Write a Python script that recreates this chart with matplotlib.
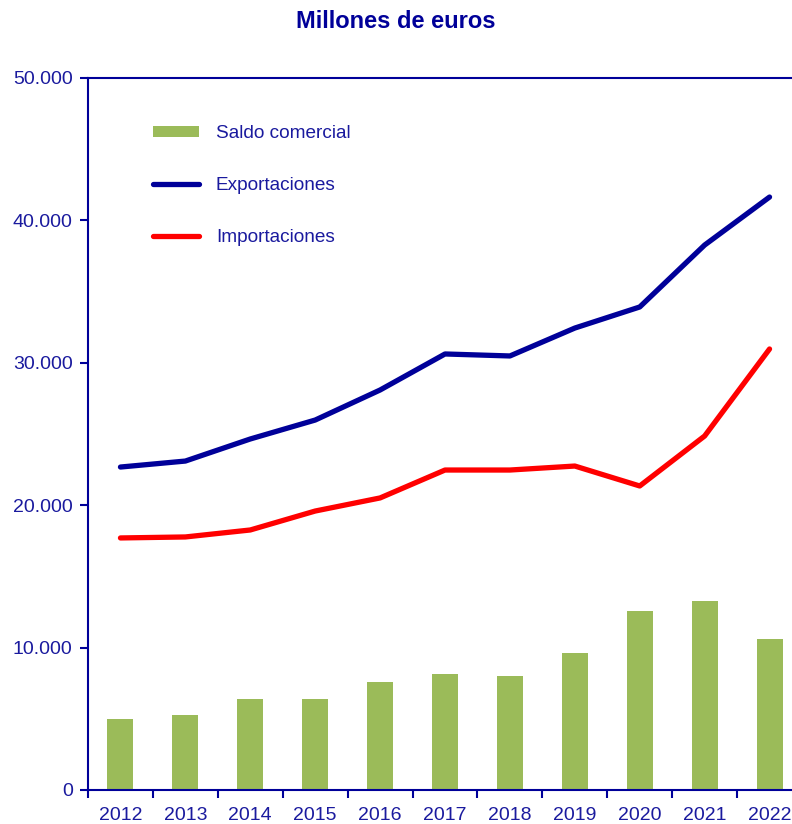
import matplotlib

matplotlib.use("Agg")
import matplotlib.pyplot as plt
import numpy as np
from matplotlib.ticker import FuncFormatter, MultipleLocator

plt.rcParams["font.family"] = ["Liberation Sans", "DejaVu Sans"]

years = ["2012", "2013", "2014", "2015", "2016", "2017", "2018", "2019", "2020", "2021", "2022"]
exportaciones = [22680, 23100, 24650, 25980, 28090, 30620, 30480, 32440, 33920, 38270, 41640]
importaciones = [17700, 17770, 18260, 19590, 20510, 22470, 22470, 22750, 21350, 24860, 30970]
saldo = [4990, 5270, 6390, 6390, 7580, 8150, 8010, 9620, 12570, 13270, 10600]

NAVY = "#000099"
TEXT = "#1A1A9E"
GREEN = "#9BBB59"
RED = "#FF0000"

fig = plt.figure(figsize=(7.92, 8.24), dpi=100)
ax = fig.add_axes([88 / 792, 1 - 790 / 824, (802 - 88) / 792, (790 - 78) / 824])

x = np.arange(len(years))
bars = ax.bar(x, saldo, width=0.4, color=GREEN, label="Saldo comercial", zorder=2)
l_exp, = ax.plot(x, exportaciones, color=NAVY, lw=3.8, solid_capstyle="round",
                 label="Exportaciones", zorder=3)
l_imp, = ax.plot(x, importaciones, color=RED, lw=3.8, solid_capstyle="round",
                 label="Importaciones", zorder=3)

ax.set_xlim(-0.5, len(years) - 0.5)
ax.set_ylim(0, 50000)
ax.yaxis.set_major_locator(MultipleLocator(10000))
ax.yaxis.set_major_formatter(FuncFormatter(lambda v, _: f"{int(v):,}".replace(",", ".")))

ax.set_xticks(x)
ax.set_xticklabels(years)
ax.set_xticks(np.arange(-0.5, len(years) + 0.5, 1), minor=True)
ax.tick_params(axis="x", which="major", length=0, pad=12, labelsize=14, labelcolor=TEXT)
ax.tick_params(axis="x", which="minor", length=6, width=1.5, color=NAVY, direction="out")
ax.tick_params(axis="y", length=6, width=1.5, color=NAVY, labelsize=14, labelcolor=TEXT, pad=5)

for side in ["left", "bottom", "top"]:
    ax.spines[side].set_color(NAVY)
    ax.spines[side].set_linewidth(1.5)
ax.spines["right"].set_visible(False)

fig.text(0.5, 1 - 22 / 824, "Millones de euros", ha="center", va="center",
         fontsize=17, fontweight="bold", color=NAVY)

leg = ax.legend([bars, l_exp, l_imp], ["Saldo comercial", "Exportaciones", "Importaciones"],
                loc="upper left", bbox_to_anchor=((153 - 88) / 714, (790 - 125) / 712),
                frameon=False, fontsize=13.7, handlelength=2.4, handleheight=0.55,
                handletextpad=0.9, labelspacing=1.85, borderpad=0, borderaxespad=0)
for t in leg.get_texts():
    t.set_color(TEXT)

fig.savefig("out.png", dpi=100)
